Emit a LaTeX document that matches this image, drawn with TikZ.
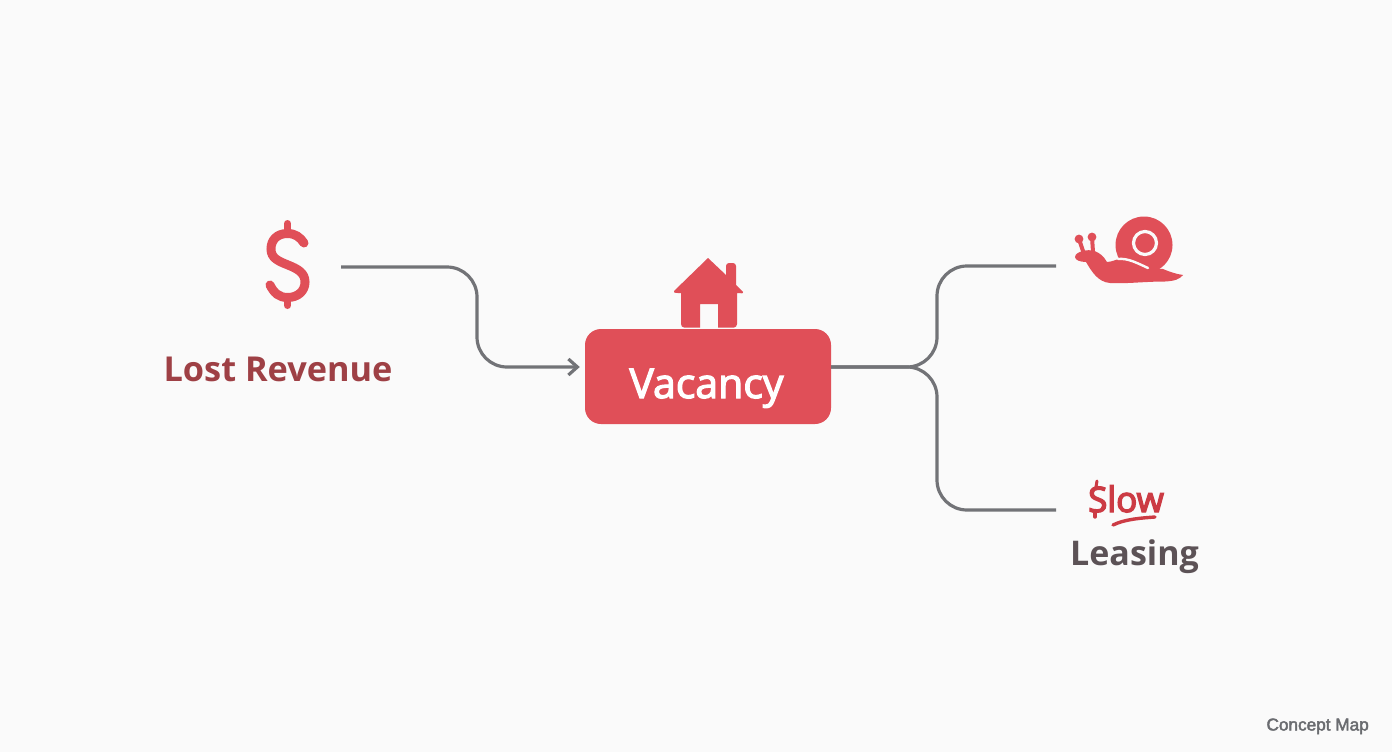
\documentclass[tikz,border=0pt]{standalone}
\usepackage{fontspec}
\setmainfont{Open Sans}
\newfontfamily\capfont[RawFeature={embolden=2.4}]{Liberation Sans}
\newfontfamily\medfont[RawFeature={embolden=3}]{Open Sans}
\newfontfamily\slowfont[RawFeature={embolden=4}]{Open Sans}
\definecolor{bgc}{HTML}{FAFAFA}
\definecolor{redc}{HTML}{E04F58}
\definecolor{lostc}{HTML}{9E4045}
\definecolor{slowc}{HTML}{CC3B44}
\definecolor{leasec}{HTML}{5C5256}
\definecolor{linec}{HTML}{727377}
\definecolor{capc}{HTML}{6A6C70}
\usetikzlibrary{arrows.meta}
\tikzset{
  x=1pt,y=-1pt,
  conn/.style={draw=linec,line width=3.2pt,rounded corners=30pt},
  label/.style={font=\bfseries\fontsize{34.3}{40}\selectfont,inner sep=0pt,anchor=base},
}
\begin{document}
\begin{tikzpicture}
\fill[bgc] (0,0) rectangle (1392,752);
\useasboundingbox (0,0) rectangle (1392,752);
% vacancy
\node[fill=redc,rounded corners=16pt,minimum width=246pt,minimum height=95pt,inner sep=0pt] (vac) at (708,376.5) {};
\node[text=white,font=\medfont\fontsize{41}{44}\selectfont,inner sep=0pt,anchor=base] (vactext) at (706.5,398) {Vacancy};
% house
\fill[redc,line join=round] (708,258) -- (726,275) -- (726,266) to[out=90,in=180] (729,263) -- (733,263) to[out=0,in=90] (736,266) -- (736,285) -- (743,292) to[out=-60,in=0] (737,293) -- (737,324) to[out=-90,in=0] (734,327.5) -- (718,327.5) -- (718,304) -- (700,304) -- (700,327.5) -- (684,327.5) to[out=180,in=-90] (681,324) -- (681,293) to[out=180,in=-120] (674,291) -- cycle;
% dollar
\draw[redc,line width=7pt,line cap=round] (287.5,223.5) -- (287.5,233);
\draw[redc,line width=7pt,line cap=round] (287.5,298) -- (287.5,305.5);
\draw[redc,line width=9pt,line cap=round] (304,243) .. controls (300,237) and (295,233.5) .. (287.5,233.5) .. controls (277,233.5) and (271,240) .. (271,249) .. controls (271,258) and (278,261) .. (288,265) .. controls (298,269) and (305,273) .. (305,282) .. controls (305,291) and (298,297.5) .. (287.5,297.5) .. controls (279,297.5) and (274,293) .. (270,285);
% snail
\fill[redc] (1144,245) circle (28.5);
\draw[bgc,line width=3.2pt] (1145,243) circle (11.5);
\draw[redc,line width=4pt] (1084,254) -- (1079,239);
\draw[redc,line width=4pt] (1093,252) -- (1092,237);
\fill[redc] (1079,239) circle (4.4) (1092,237) circle (4.4);
\fill[redc] (1083,251) .. controls (1090,249) and (1100,250) .. (1107,262) .. controls (1113,262) and (1118,258) .. (1124,258) -- (1149,268) -- (1163,269) .. controls (1170,272) and (1176,274) .. (1183,275) .. controls (1180,279) and (1175,281) .. (1165,281.5) .. controls (1145,281.5) and (1125,284) .. (1110,283) .. controls (1098,282) and (1092,272) .. (1086,262) .. controls (1080,262) and (1075,260) .. (1075,257) .. controls (1075,254) and (1079,252) .. cycle;
\draw[bgc,line width=2.4pt,line cap=round] (1118,259) .. controls (1128,258) and (1137,263) .. (1148,268);
% labels
\node[label,text=lostc] (lost) at (278,381) {Lost Revenue};
\node[label,text=leasec,font=\bfseries\fontsize{34}{40}\selectfont] (lease) at (1134.5,565) {Leasing};
\node[label,text=slowc,font=\slowfont\fontsize{35}{40}\selectfont] (slow) at (1126,512) {Slow};
\draw[slowc,line width=3pt,line cap=round] (1097,481) -- (1096,487);
\draw[slowc,line width=3.4pt,line cap=round] (1095,511) -- (1095,517);
\draw[slowc,line width=3.4pt,line cap=round] (1113,525) .. controls (1125,519) and (1142,518) .. (1155,517);
\node[font=\capfont\fontsize{17.2}{20}\selectfont,text=capc,inner sep=0pt,anchor=base east] (cap) at (1369,730.5) {Concept Map};
% connectors
\coordinate (revout) at (341,267);
\coordinate (snailin) at (1056,266);
\coordinate (slowin) at (1056,510);
\draw[conn,-{Straight Barb[length=9pt,width=16pt,line width=3.2pt]},shorten >=5pt] (revout) -- (477,267) -- (477,367) -- (vac.west |- 0,367);
\draw[conn] (vac.east |- 0,367) -- (937,367) -- (937,266) -- (snailin);
\draw[conn] (vac.east |- 0,367) -- (937,367) -- (937,510) -- (slowin);
\end{tikzpicture}
\end{document}
